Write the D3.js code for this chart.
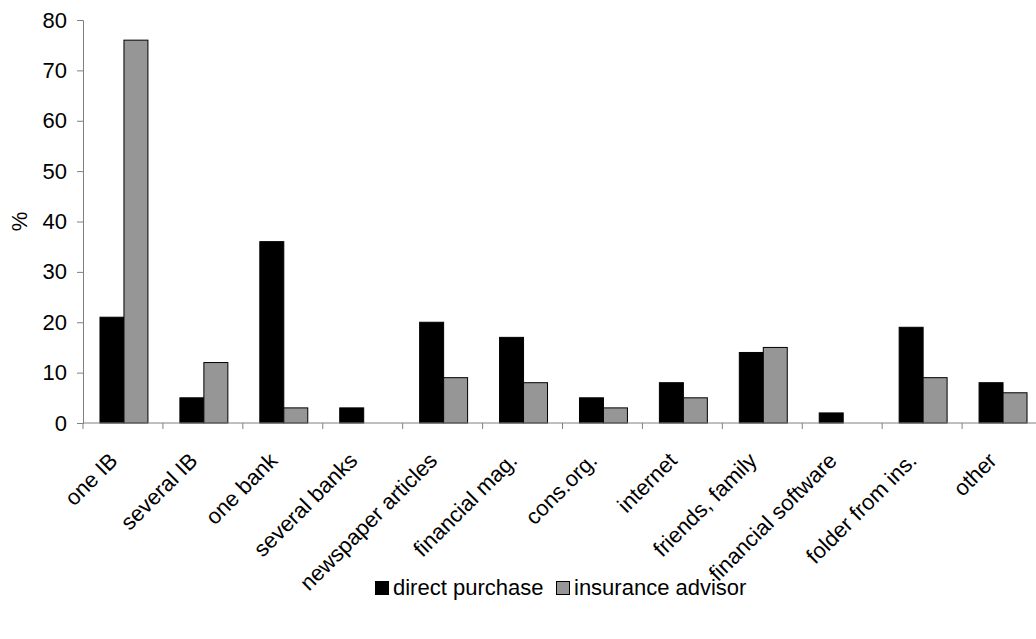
<!DOCTYPE html>
<html>
<head>
<meta charset="utf-8">
<script src="https://cdn.jsdelivr.net/npm/d3@7"></script>
<style>
  html, body { margin: 0; padding: 0; background: #fff; }
  svg { display: block; font-family: "Liberation Sans", Arial, sans-serif; }
</style>
</head>
<body>
<svg id="chart" width="1036" height="639"></svg>
<script>
// Information sources by purchase channel (%)
const categories = ["one IB", "several IB", "one bank", "several banks", "newspaper articles",
  "financial mag.", "cons.org.", "internet", "friends, family", "financial software",
  "folder from ins.", "other"];
const directPurchase = [21, 5, 36, 3, 20, 17, 5, 8, 14, 2, 19, 8];
const insuranceAdvisor = [76, 12, 3, 0, 9, 8, 3, 5, 15, 0, 9, 6];
const seriesNames = ["direct purchase", "insurance advisor"];
const seriesColors = ["#000000", "#969696"];
const yTicks = [0, 10, 20, 30, 40, 50, 60, 70, 80];

const FONT = 22;
const svg = d3.select("#chart");
const plotLeft = 83, plotRight = 1042, plotTop = 20, plotBottom = 423;

const x = d3.scaleBand().domain(categories).range([plotLeft, plotRight]).padding(0);
const y = d3.scaleLinear().domain([0, 80]).range([plotBottom, plotTop]);
const sub = d3.scaleBand().domain(seriesNames)
  .range([x.bandwidth() * 0.2125, x.bandwidth() * 0.8125]).padding(0);

const rows = categories.map((c, i) => ({ cat: c, vals: [directPurchase[i], insuranceAdvisor[i]] }));

// bars
const g = svg.append("g");
rows.forEach(r => {
  r.vals.forEach((v, k) => {
    if (v <= 0) return;
    g.append("rect")
      .attr("x", x(r.cat) + sub(seriesNames[k]))
      .attr("y", y(v))
      .attr("width", sub.bandwidth())
      .attr("height", y(0) - y(v))
      .attr("fill", seriesColors[k])
      .attr("stroke", "#000")
      .attr("stroke-width", 1);
  });
});

// y axis
const yAxis = svg.append("g").attr("transform", `translate(${plotLeft},0)`)
  .call(d3.axisLeft(y).tickValues(yTicks).tickSize(6).tickPadding(10));
yAxis.select(".domain").attr("stroke", "#808080");
yAxis.selectAll(".tick line").attr("stroke", "#808080");
yAxis.selectAll(".tick text").attr("font-size", FONT).attr("fill", "#000")
  .attr("font-family", "Liberation Sans, Arial, sans-serif");

// x axis baseline and ticks at category boundaries
const xAxis = svg.append("g");
xAxis.append("line").attr("x1", plotLeft).attr("x2", plotRight).attr("y1", y(0)).attr("y2", y(0))
  .attr("stroke", "#808080");
categories.forEach(c => {
  xAxis.append("line").attr("x1", x(c)).attr("x2", x(c)).attr("y1", y(0)).attr("y2", y(0) + 6)
    .attr("stroke", "#808080");
});
categories.forEach(c => {
  const cx = x(c) + x.bandwidth() / 2 - 4;
  const cy = y(0) + 39;
  xAxis.append("text")
    .attr("transform", `translate(${cx},${cy}) rotate(-45)`)
    .attr("text-anchor", "end")
    .attr("font-size", FONT)
    .text(c);
});

// y axis title
svg.append("text")
  .attr("transform", `translate(27,${(plotTop + plotBottom) / 2}) rotate(-90)`)
  .attr("text-anchor", "middle")
  .attr("font-size", FONT)
  .text("%");

// legend
const legend = svg.append("g");
const legendItems = [
  { name: seriesNames[0], color: seriesColors[0], x: 375 },
  { name: seriesNames[1], color: seriesColors[1], x: 556 }
];
legendItems.forEach(it => {
  legend.append("rect").attr("x", it.x + 0.5).attr("y", 581.5).attr("width", 13).attr("height", 13)
    .attr("fill", it.color).attr("stroke", "#000").attr("stroke-width", 1);
  legend.append("text").attr("x", it.x + 18).attr("y", 595).attr("font-size", FONT).text(it.name);
});
</script>
</body>
</html>
